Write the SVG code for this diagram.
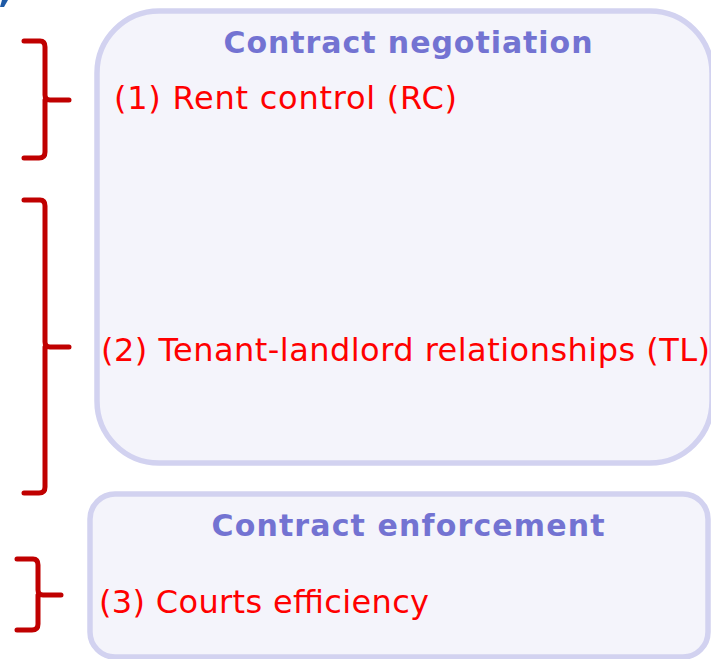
<svg xmlns="http://www.w3.org/2000/svg" width="711" height="659" viewBox="0 0 711 659">
  <style>
    .panel { fill: #f4f4fb; stroke: #d2d2f0; stroke-width: 5.5; }
    .title { font-family: "DejaVu Sans", Verdana, sans-serif; font-weight: bold; font-size: 30px; fill: #7373d2; text-anchor: middle; }
    .item { font-family: "DejaVu Sans", Verdana, sans-serif; font-size: 32px; fill: #ff0000; }
    .brace { fill: none; stroke: #c00000; stroke-width: 5; stroke-linecap: round; stroke-linejoin: round; }
  </style>
  <rect width="711" height="659" fill="#ffffff"/>
  <!-- clipped mark in the top-left corner -->
  <polygon points="2,0 8,0 4,7 0,7" fill="#1f5aa6"/>

  <g id="negotiation">
    <rect class="panel" x="97" y="11" width="615" height="452" rx="62" ry="62"/>
    <text class="title" x="408" y="53" textLength="369" lengthAdjust="spacing">Contract negotiation</text>
    <text class="item" x="114" y="109" textLength="343" lengthAdjust="spacing">(1) Rent control (RC)</text>
    <text class="item" x="101" y="361" textLength="609" lengthAdjust="spacing">(2) Tenant-landlord relationships (TL)</text>
  </g>

  <g id="enforcement">
    <rect class="panel" x="90" y="494" width="618" height="163" rx="25" ry="25"/>
    <text class="title" x="408" y="536" textLength="393" lengthAdjust="spacing">Contract enforcement</text>
    <text class="item" x="99" y="613" textLength="330" lengthAdjust="spacing">(3) Courts efficiency</text>
  </g>

  <g id="braces">
    <path class="brace" d="M24,41 L40,41 Q45,41 45,47 L45,95 Q45,100 50,100 L69,100 M45,100 Q45,105 45,108 L45,152 Q45,158 39,158 L24,158"/>
    <path class="brace" d="M24,200 L40,200 Q45,200 45,206 L45,342 Q45,347 50,347 L69,347 M45,347 L45,487 Q45,493 39,493 L24,493"/>
    <path class="brace" d="M17,559 L33,559 Q38,559 38,565 L38,590 Q38,595 43,595 L61,595 M38,595 L38,624 Q38,630 32,630 L17,630"/>
  </g>
</svg>
